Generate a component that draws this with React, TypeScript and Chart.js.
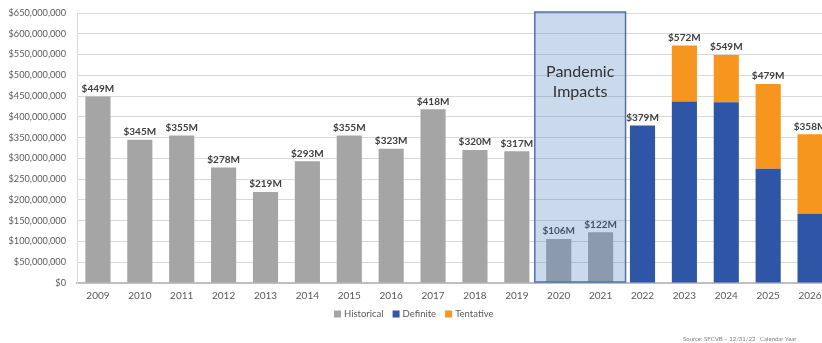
import React, { useEffect, useRef } from "react";
import { Chart, registerables } from "chart.js";

Chart.register(...registerables);

const years = ["2009","2010","2011","2012","2013","2014","2015","2016","2017","2018","2019","2020","2021","2022","2023","2024","2025","2026"];
// values in millions of dollars
const historical = [449, 345, 355, 278, 219, 293, 355, 323, 418, 320, 317, 106, 122, null, null, null, null, null];
const definite = [null, null, null, null, null, null, null, null, null, null, null, null, null, 379, 437, 435, 275, 167];
const tentative = [null, null, null, null, null, null, null, null, null, null, null, null, null, null, 135, 114, 204, 191];
const totalLabels = ["$449M","$345M","$355M","$278M","$219M","$293M","$355M","$323M","$418M","$320M","$317M","$106M","$122M","$379M","$572M","$549M","$479M","$358M"];
const legendNames = ["Historical", "Definite", "Tentative"];
const legendColors = ["#A5A5A5", "#2F56A6", "#F7961F"];
const pandemicStart = 11;
const pandemicEnd = 12;
const pandemicTitle = ["Pandemic", "Impacts"];
const sourceNote = "Source: SFCVB \u2013 12/31/22   Calendar Year";

const FONT = "Lato, 'DejaVu Sans', sans-serif";

const overlayPlugin = {
  id: "overlay",
  afterDatasetsDraw(chart: any) {
    const { ctx, scales, chartArea } = chart;
    const x = scales.x;
    const y = scales.y;
    const catW = x.getPixelForValue(1) - x.getPixelForValue(0);
    ctx.save();
    ctx.font = `bold 10px ${FONT}`;
    ctx.fillStyle = "#404040";
    ctx.textAlign = "center";
    ctx.textBaseline = "bottom";
    years.forEach((_, i) => {
      const tot = (historical[i] || 0) + (definite[i] || 0) + (tentative[i] || 0);
      const px = x.getPixelForValue(i);
      const py = y.getPixelForValue(tot);
      ctx.fillText(totalLabels[i], px, py - 3);
    });
    ctx.restore();
    const left = x.getPixelForValue(pandemicStart) - catW / 2 - 3;
    const right = x.getPixelForValue(pandemicEnd) + catW / 2 + 4;
    const top = y.getPixelForValue(y.max) - 1;
    const bottom = chartArea.bottom - 1;
    ctx.save();
    ctx.fillStyle = "rgba(79,129,189,0.30)";
    ctx.fillRect(left, top, right - left, bottom - top);
    ctx.strokeStyle = "#4F72AE";
    ctx.lineWidth = 1.5;
    ctx.strokeRect(left, top, right - left, bottom - top);
    ctx.fillStyle = "#333333";
    ctx.font = `16px ${FONT}`;
    ctx.textAlign = "center";
    ctx.textBaseline = "middle";
    const cx = (left + right) / 2;
    ctx.fillText(pandemicTitle[0], cx, top + 60);
    ctx.fillText(pandemicTitle[1], cx, top + 80);
    ctx.restore();
  },
  afterDraw(chart: any) {
    const { ctx } = chart;
    ctx.save();
    ctx.font = `9.5px ${FONT}`;
    ctx.textBaseline = "middle";
    ctx.textAlign = "left";
    let lx = 334;
    const ly = 314;
    legendNames.forEach((name, i) => {
      ctx.fillStyle = legendColors[i];
      ctx.fillRect(lx, ly - 3.5, 7, 7);
      ctx.fillStyle = "#595959";
      ctx.fillText(name, lx + 10, ly);
      lx += 10 + ctx.measureText(name).width + 9;
    });
    ctx.font = `6px ${FONT}`;
    ctx.fillStyle = "#7F7F7F";
    ctx.fillText(sourceNote, 683, 339);
    ctx.restore();
  },
};

export default function App() {
  const ref = useRef<HTMLCanvasElement>(null);
  useEffect(() => {
    document.body.style.overflow = "hidden";
    const chart = new Chart(ref.current!, {
      type: "bar",
      data: {
        labels: years,
        datasets: [
          { label: legendNames[0], data: historical, backgroundColor: legendColors[0], stack: "s" },
          { label: legendNames[1], data: definite, backgroundColor: legendColors[1], stack: "s" },
          { label: legendNames[2], data: tentative, backgroundColor: legendColors[2], stack: "s" },
        ],
      },
      options: {
        animation: false,
        responsive: false,
        maintainAspectRatio: false,
        layout: { autoPadding: false, padding: { top: 13, right: 1, bottom: 39, left: 0 } },
        datasets: { bar: { barPercentage: 0.6, categoryPercentage: 1 } },
        plugins: {
          tooltip: { enabled: false },
          legend: { display: false },
        },
        scales: {
          x: {
            stacked: true,
            afterFit(scale: any) {
              scale.height = 21;
              scale.paddingLeft = 0;
              scale.paddingRight = 0;
            },
            grid: { display: false, drawTicks: false },
            border: { color: "#BFBFBF", width: 2 },
            ticks: { color: "#595959", font: { family: FONT, size: 10 }, padding: 7, maxRotation: 0 },
          },
          y: {
            stacked: true,
            min: 0,
            max: 650,
            afterFit(scale: any) {
              scale.width = 77;
              scale.paddingTop = 0;
              scale.paddingBottom = 0;
            },
            grid: { color: "#D9D9D9", drawTicks: false },
            border: { color: "#D9D9D9", width: 1 },
            ticks: {
              stepSize: 50,
              padding: 11,
              color: "#595959",
              font: { family: FONT, size: 9.2 },
              callback: (v: any) => "$" + (Number(v) * 1e6).toLocaleString("en-US"),
            },
          },
        },
      },
      plugins: [overlayPlugin],
    });
    return () => chart.destroy();
  }, []);
  return (
    <div style={{ position: "fixed", left: 0, top: 0, width: 832, height: 343, background: "#fff" }}>
      <canvas ref={ref} width={832} height={343} style={{ width: 832, height: 343 }} />
    </div>
  );
}
